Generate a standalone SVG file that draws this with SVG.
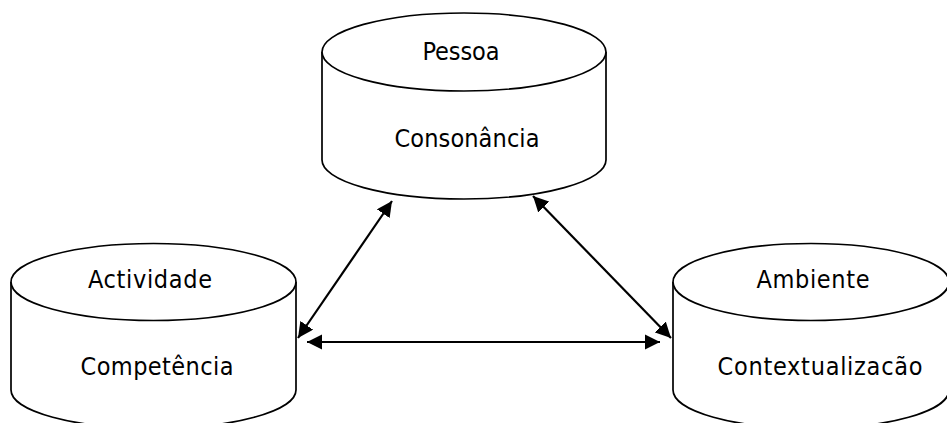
<svg xmlns="http://www.w3.org/2000/svg" width="947" height="423" viewBox="0 0 947 423">
  <defs>
    <style>
      .cyl { fill: #ffffff; stroke: #000000; stroke-width: 1.7; }
      .lbl { font-family: "DejaVu Sans Condensed", "DejaVu Sans", "Liberation Sans", sans-serif; font-stretch: condensed; font-size: 25px; fill: #000000; text-anchor: middle; }
      .conn { stroke: #000000; stroke-width: 2.2; fill: none; marker-start: url(#head); marker-end: url(#head); }
    </style>
    <marker id="head" viewBox="0 0 10 10" refX="10" refY="5" markerWidth="7" markerHeight="7" markerUnits="strokeWidth" orient="auto-start-reverse">
      <path d="M0,0 L10,5 L0,10 Z" fill="#000000"/>
    </marker>
  </defs>
  <rect width="947" height="423" fill="#ffffff"/>

  <g id="node-pessoa">
    <path class="cyl" d="M322,52 L322,160 A142,39 0 0 0 606,160 L606,52"/>
    <ellipse class="cyl" cx="464" cy="52" rx="142" ry="39"/>
    <text class="lbl" x="461" y="60" textLength="77">Pessoa</text>
    <text class="lbl" x="467" y="147" textLength="145">Consonância</text>
  </g>

  <g id="node-actividade">
    <path class="cyl" d="M11,282 L11,390 A142.5,38.5 0 0 0 296,390 L296,282"/>
    <ellipse class="cyl" cx="153.5" cy="282" rx="142.5" ry="38.5"/>
    <text class="lbl" x="150" y="288" textLength="124">Actividade</text>
    <text class="lbl" x="157" y="375" textLength="153">Competência</text>
  </g>

  <g id="node-ambiente">
    <path class="cyl" d="M673,282 L673,390 A138,38.5 0 0 0 949,390 L949,282"/>
    <ellipse class="cyl" cx="811" cy="282" rx="138" ry="38.5"/>
    <text class="lbl" x="813" y="288" textLength="113">Ambiente</text>
    <text class="lbl" x="820" y="375" textLength="205">Contextualizacão</text>
  </g>

  <g id="connectors">
    <line class="conn" x1="298" y1="338" x2="392" y2="201"/>
    <line class="conn" x1="533" y1="196" x2="671" y2="338"/>
    <line class="conn" x1="307" y1="342" x2="660" y2="342"/>
  </g>
</svg>
